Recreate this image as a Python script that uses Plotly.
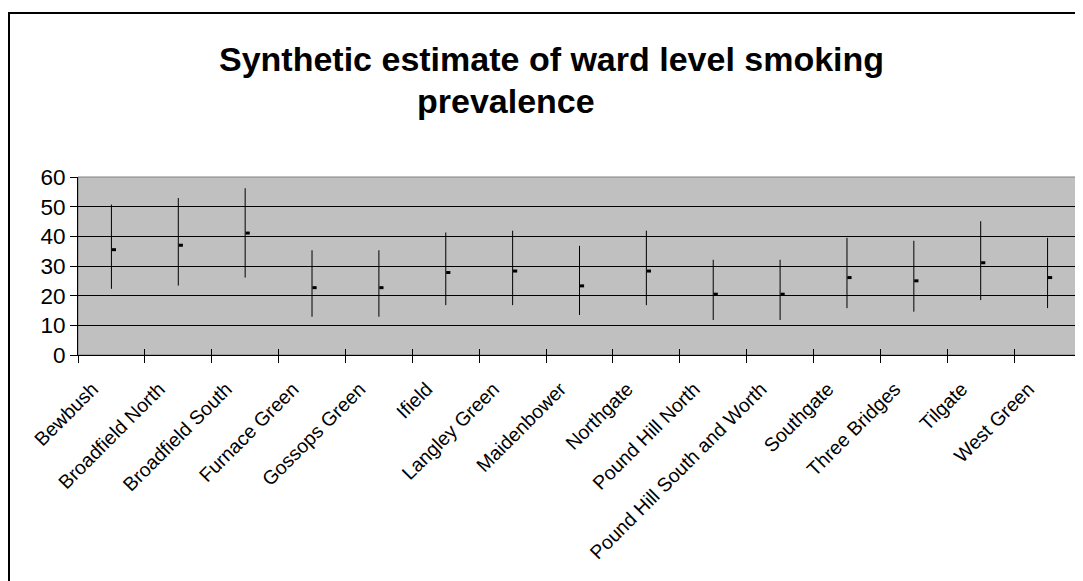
import numpy as np
import plotly.graph_objects as go

wards = ["Bewbush", "Broadfield North", "Broadfield South", "Furnace Green", "Gossops Green",
         "Ifield", "Langley Green", "Maidenbower", "Northgate", "Pound Hill North",
         "Pound Hill South and Worth", "Southgate", "Three Bridges", "Tilgate", "West Green"]
high = [50.7, 52.9, 56.2, 35.3, 35.3, 41.3, 41.9, 36.8, 41.9, 32.1, 32.1, 39.5, 38.5, 45.1, 39.5]
low = [22.3, 23.4, 26.1, 12.9, 12.9, 16.8, 16.8, 13.5, 16.8, 11.8, 11.8, 15.8, 14.6, 18.5, 15.8]
estimate = [35.5, 37.0, 41.1, 22.7, 22.7, 27.8, 28.3, 23.3, 28.3, 20.5, 20.5, 26.1, 25.0, 31.1, 26.1]
y_ticks = [0, 10, 20, 30, 40, 50, 60]

FONT = "Liberation Sans, Arial, sans-serif"
OFF = 8  # page body margin
W, H = 1083 - OFF, 581 - OFF
PL, PR, PT, PB = 78, 1081, 177, 355
ML, MT = PL - OFF, PT - OFF
MR = W - (PR - OFF)
MB = H - (PB - OFF)
PW, PH = W - ML - MR, H - MT - MB

idx = np.arange(len(wards))
n = len(wards)

lx, ly = [], []
for i in range(n):
    lx += [idx[i], idx[i], None]
    ly += [low[i], high[i], None]

fig = go.Figure()
fig.add_trace(go.Scatter(x=lx, y=ly, mode="lines", line=dict(color="black", width=1),
                         hoverinfo="skip", showlegend=False))
mark_offset = 2.5 / PW * n
fig.add_trace(go.Scatter(x=idx + mark_offset, y=estimate, mode="markers",
                         marker=dict(symbol="line-ew", size=3, color="black",
                                     line=dict(color="black", width=3)),
                         xaxis="x2", yaxis="y2", showlegend=False))


def px_to_paper_x(px):
    return (px - OFF - ML) / PW


def px_to_paper_y(py):
    return (H - MB - (py - OFF)) / PH


boundaries = list(np.arange(-0.5, n, 1.0))

fig.update_layout(
    width=W, height=H,
    margin=dict(l=ML, r=MR, t=MT, b=MB, autoexpand=False),
    paper_bgcolor="white", plot_bgcolor="#C0C0C0",
    showlegend=False,
    font=dict(family=FONT, color="black"),
    xaxis=dict(range=[-0.5, n - 0.5], tickmode="array", tickvals=list(idx), ticktext=wards,
               tickangle=-45, ticks="", showgrid=False, zeroline=False,
               showline=True, linecolor="black", linewidth=1,
               ticklabelshift=-19, ticklabelstandoff=14,
               tickfont=dict(family=FONT, size=19.5, color="black"),
               minor=dict(tickmode="array", tickvals=boundaries, ticks="outside",
                          ticklen=7, tickcolor="black", tickwidth=1, showgrid=False)),
    yaxis=dict(range=[0, 60], tickmode="array", tickvals=y_ticks, ticks="outside",
               ticklen=7, tickcolor="black", showgrid=True, gridcolor="black", gridwidth=1,
               zeroline=False, showline=True, linecolor="black", linewidth=1,
               tickfont=dict(family=FONT, size=22.5, color="black")),
    xaxis2=dict(range=[-0.5, n - 0.5], overlaying="x", tickmode="array", tickvals=boundaries,
                ticks="inside", ticklen=6, tickcolor="black", showticklabels=False,
                showgrid=False, zeroline=False, showline=False),
    yaxis2=dict(range=[0, 60], overlaying="y", tickmode="array", tickvals=y_ticks,
                ticks="inside", ticklen=7, tickcolor="black", showticklabels=False,
                showgrid=False, zeroline=False, showline=False),
)

fig.add_shape(type="rect", xref="paper", yref="paper", x0=0, x1=1, y0=0, y1=1,
              line=dict(color="#808080", width=1), fillcolor="rgba(0,0,0,0)", layer="below")
fig.add_shape(type="rect", xref="paper", yref="paper",
              x0=px_to_paper_x(OFF + 1), x1=px_to_paper_x(1083 + 20),
              y0=px_to_paper_y(581 + 20), y1=px_to_paper_y(13),
              line=dict(color="black", width=2), fillcolor="rgba(0,0,0,0)", layer="above")

fig.add_annotation(text="<b>Synthetic estimate of ward level smoking</b>", xref="paper", yref="paper",
                   x=px_to_paper_x(551), y=px_to_paper_y(59), xanchor="center", yanchor="middle",
                   showarrow=False, font=dict(family=FONT, size=34, color="black"))
fig.add_annotation(text="<b>prevalence</b>", xref="paper", yref="paper",
                   x=px_to_paper_x(506), y=px_to_paper_y(101), xanchor="center", yanchor="middle",
                   showarrow=False, font=dict(family=FONT, size=34, color="black"))

fig.write_html("out.html")
